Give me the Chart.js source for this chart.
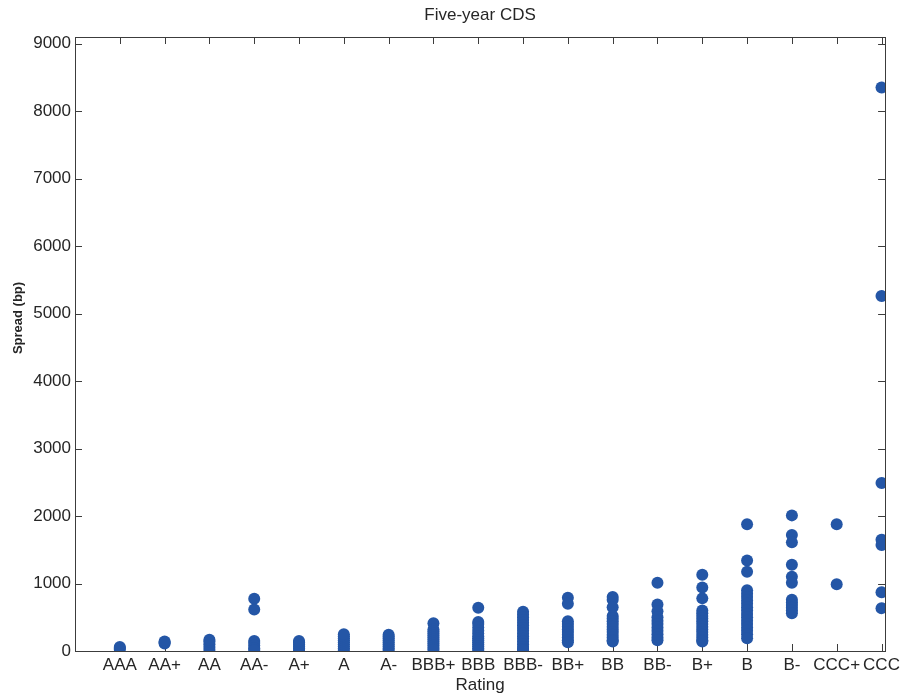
<!DOCTYPE html>
<html>
<head>
<meta charset="utf-8">
<title>Five-year CDS</title>
<script src="https://cdn.jsdelivr.net/npm/chart.js@4.4.1/dist/chart.umd.min.js"></script>
<style>
  html, body { margin: 0; padding: 0; background: #fff; }
  #wrap { width: 904px; height: 693px; }
</style>
</head>
<body>
<div id="wrap"><canvas id="cds"></canvas></div>
<script>
// Rating categories along the x axis
const ratings = ['AAA', 'AA+', 'AA', 'AA-', 'A+', 'A', 'A-', 'BBB+', 'BBB', 'BBB-',
                 'BB+', 'BB', 'BB-', 'B+', 'B', 'B-', 'CCC+', 'CCC'];

// Five-year CDS spreads (bp), one array per rating
const spreadAAA  = [25, 45, 60];
const spreadAAp  = [110, 125, 140];
const spreadAA   = [20, 60, 100, 140, 165];
const spreadAAm  = [775, 615, 150, 120, 80, 40, 15];
const spreadAp   = [10, 40, 70, 100, 130, 150];
const spreadA    = [10, 40, 70, 100, 130, 160, 190, 220, 250];
const spreadAm   = [10, 40, 70, 100, 130, 160, 190, 215, 240];
const spreadBBBp = [410, 320, 290, 260, 230, 200, 170, 140, 110, 80, 50, 20];
const spreadBBB  = [640, 430, 400, 350, 300, 260, 220, 190, 160, 130, 100, 70, 40, 10];
const spreadBBBm = [580, 540, 500, 460, 420, 380, 340, 300, 260, 220, 180, 140, 100, 60, 30, 10];
const spreadBBp  = [790, 700, 440, 400, 360, 320, 280, 240, 200, 160, 130];
const spreadBB   = [800, 760, 650, 520, 480, 440, 400, 360, 320, 280, 240, 200, 160, 140];
const spreadBBm  = [1010, 690, 590, 500, 450, 400, 350, 300, 250, 200, 160];
const spreadBp   = [1130, 940, 780, 600, 560, 520, 480, 440, 400, 360, 320, 280, 240, 200, 160, 140];
const spreadB    = [1880, 1340, 1175, 900, 850, 800, 750, 700, 650, 600, 550, 500, 450, 400, 350, 300, 250, 190];
const spreadBm   = [2010, 1720, 1610, 1280, 1100, 1010, 760, 720, 680, 640, 600, 560];
const spreadCCCp = [1880, 990];
const spreadCCC  = [8350, 5260, 2490, 1650, 1570, 870, 635];

const spreads = [spreadAAA, spreadAAp, spreadAA, spreadAAm, spreadAp, spreadA, spreadAm,
                 spreadBBBp, spreadBBB, spreadBBBm, spreadBBp, spreadBB, spreadBBm,
                 spreadBp, spreadB, spreadBm, spreadCCCp, spreadCCC];

// Y axis tick labels
const yTicks = [0, 1000, 2000, 3000, 4000, 5000, 6000, 7000, 8000, 9000];

const chartTitle = 'Five-year CDS';
const yTitle = 'Spread (bp)';

// Build scatter points: x = rating position (1-based), y = spread
const points = [];
spreads.forEach((list, i) => {
    list.forEach(v => points.push({ x: i + 1, y: v }));
});

const FONT = "'Liberation Sans', Arial, Helvetica, sans-serif";
const AXIS_COLOR = '#3c3c3c';
const TEXT_COLOR = '#262626';

// MATLAB style box with inward ticks on all four sides, plus title and y label
const boxPlugin = {
    id: 'matlabBox',
    beforeDatasetsDraw(chart) {
        const { ctx, chartArea: a, scales } = chart;
        const len = 7;
        ctx.save();
        ctx.strokeStyle = AXIS_COLOR;
        ctx.lineWidth = 1;
        ctx.beginPath();
        scales.x.ticks.forEach(t => {
            const px = Math.round(scales.x.getPixelForValue(t.value)) + 0.5;
            ctx.moveTo(px, a.bottom); ctx.lineTo(px, a.bottom - len);
            ctx.moveTo(px, a.top); ctx.lineTo(px, a.top + len);
        });
        scales.y.ticks.forEach(t => {
            const py = Math.round(scales.y.getPixelForValue(t.value)) + 0.5;
            ctx.moveTo(a.left, py); ctx.lineTo(a.left + len, py);
            ctx.moveTo(a.right, py); ctx.lineTo(a.right - len, py);
        });
        ctx.stroke();

        // title centred over the plot box
        ctx.fillStyle = TEXT_COLOR;
        ctx.textAlign = 'center';
        ctx.textBaseline = 'middle';
        ctx.font = '17px ' + FONT;
        ctx.fillText(chartTitle, (a.left + a.right) / 2, 15);

        // rotated y axis label
        ctx.translate(18, 318);
        ctx.rotate(-Math.PI / 2);
        ctx.font = 'bold 13px ' + FONT;
        ctx.fillText(yTitle, 0, 0);
        ctx.restore();
    },
    afterDatasetsDraw(chart) {
        const { ctx, chartArea: a } = chart;
        ctx.save();
        ctx.strokeStyle = AXIS_COLOR;
        ctx.lineWidth = 1;
        ctx.strokeRect(Math.round(a.left) + 0.5, Math.round(a.top) + 0.5,
                       Math.round(a.right - a.left), Math.round(a.bottom - a.top));
        ctx.restore();
    }
};

new Chart(document.getElementById('cds'), {
    type: 'scatter',
    data: {
        datasets: [{
            label: chartTitle,
            data: points,
            backgroundColor: '#2456a6',
            borderWidth: 0,
            pointRadius: 6,
            pointHoverRadius: 6,
            clip: 0
        }]
    },
    options: {
        responsive: true,
        maintainAspectRatio: false,
        animation: false,
        layout: { padding: { top: 37, right: 18, bottom: 0, left: 0 } },
        plugins: {
            legend: { display: false },
            tooltip: { enabled: false },
            title: { display: false }
        },
        scales: {
            x: {
                type: 'linear',
                min: 0,
                max: 18.08,
                grid: { display: false, drawTicks: false },
                border: { display: false },
                afterBuildTicks: scale => {
                    scale.ticks = ratings.map((_, i) => ({ value: i + 1 }));
                },
                afterFit: scale => { scale.height = 42; },
                ticks: {
                    autoSkip: false,
                    maxRotation: 0,
                    padding: 4,
                    color: TEXT_COLOR,
                    font: { family: FONT, size: 17 },
                    callback: v => ratings[v - 1] || ''
                },
                title: {
                    display: true,
                    text: 'Rating',
                    color: TEXT_COLOR,
                    font: { family: FONT, size: 17 },
                    padding: { top: 0, bottom: -3 }
                }
            },
            y: {
                min: 0,
                max: 9100,
                grid: { display: false, drawTicks: false },
                border: { display: false },
                afterBuildTicks: scale => {
                    scale.ticks = yTicks.map(v => ({ value: v }));
                },
                afterFit: scale => { scale.width = 75; },
                ticks: {
                    padding: 4,
                    color: TEXT_COLOR,
                    font: { family: FONT, size: 17 },
                    callback: v => String(v)
                },
                title: { display: false }
            }
        }
    },
    plugins: [boxPlugin]
});
</script>
</body>
</html>
